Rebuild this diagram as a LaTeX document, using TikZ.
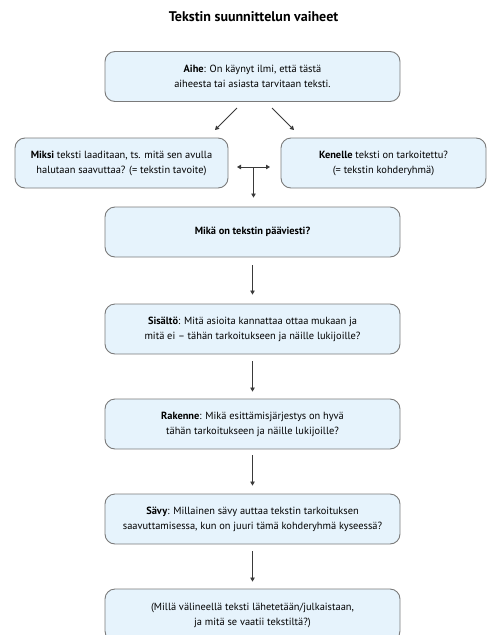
\documentclass[tikz,border=0pt]{standalone}
\usepackage{fontspec}
\setmainfont{PT Sans}
\usetikzlibrary{arrows.meta, positioning}
\usepackage{xcolor}
\definecolor{StageFill}{HTML}{E6F3FC}
\definecolor{StageLine}{HTML}{7A7A7A}
\definecolor{ArrowGray}{HTML}{3A3A3A}
\tikzset{
    % Box styles - rounded stages
    stage/.style={
        rectangle,
        rounded corners=10pt,
        draw=StageLine,
        fill=StageFill,
        line width=0.9pt,
        minimum width=295pt,
        minimum height=50pt,
        align=center,
        font=\fontsize{10.4pt}{15pt}\selectfont
    },
    sidestage/.style={
        stage,
        minimum width=212pt
    },
    % Arrow styles - straight lines only
    arrow/.style={
        -{Triangle[length=4pt,width=4.5pt]},
        line width=0.8pt,
        draw=ArrowGray
    },
    twoarrow/.style={
        {Triangle[length=4pt,width=4.5pt]}-{Triangle[length=4pt,width=4.5pt]},
        line width=0.8pt,
        draw=ArrowGray
    }
}
\begin{document}
\begin{tikzpicture}[x=1pt, y=1pt]
    \useasboundingbox (0,0) rectangle (487,-635);
    \node[font=\fontsize{14pt}{16pt}\selectfont\bfseries] (title) at (253.5,-17) {Tekstin suunnittelun vaiheet};

    \node[stage] (aihe) at (252.5,-76.5) {\textbf{Aihe}: On käynyt ilmi, että tästä\\aiheesta tai asiasta tarvitaan teksti.};
    \node[sidestage, minimum width=213pt] (miksi) at (121.5,-163) {\textbf{Miksi} teksti laaditaan, ts. mitä sen avulla\\halutaan saavuttaa? (= tekstin tavoite)};
    \node[sidestage, minimum width=205pt] (kenelle) at (383.5,-163) {\textbf{Kenelle} teksti on tarkoitettu?\\(= tekstin kohderyhmä)};
    \node[stage] (paaviesti) at (252.5,-232) {\textbf{Mikä on tekstin pääviesti?}};
    \node[stage] (sisalto) at (252.5,-329) {\textbf{Sisältö}: Mitä asioita kannattaa ottaa mukaan ja\\mitä ei -- tähän tarkoitukseen ja näille lukijoille?};
    \node[stage] (rakenne) at (252.5,-424) {\textbf{Rakenne}: Mikä esittämisjärjestys on hyvä\\tähän tarkoitukseen ja näille lukijoille?};
    \node[stage] (savy) at (252.5,-519) {\textbf{Sävy}: Millainen sävy auttaa tekstin tarkoituksen\\saavuttamisessa, kun on juuri tämä kohderyhmä kyseessä?};
    \node[stage, minimum height=52pt] (media) at (252.5,-615) {(Millä välineellä teksti lähetetään/julkaistaan,\\ja mitä se vaatii tekstiltä?)};

    % branching from the topic
    \coordinate (splitL) at (237,-108);
    \coordinate (splitR) at (272,-108);
    \coordinate (toMiksi) at (215,-130);
    \coordinate (toKenelle) at (294,-130);
    \draw[arrow] (splitL) -- (toMiksi);
    \draw[arrow] (splitR) -- (toKenelle);

    % joining goal and audience
    \coordinate (joinL) at (237,-167);
    \coordinate (joinR) at (270,-167);
    \coordinate (joinM) at (253.5,-167);
    \draw[twoarrow] (joinL) -- (joinR);
    \draw[arrow] (joinM) -- ([yshift=9pt]joinM |- paaviesti.north);

    \draw[arrow] ([yshift=-8pt]paaviesti.south) -- ([yshift=9pt]sisalto.north);
    \draw[arrow] ([yshift=-7pt]sisalto.south) -- ([yshift=7pt]rakenne.north);
    \draw[arrow] ([yshift=-6pt]rakenne.south) -- ([yshift=8pt]savy.north);
    \draw[arrow] ([yshift=-7pt]savy.south) -- ([yshift=7pt]media.north);
\end{tikzpicture}
\end{document}
